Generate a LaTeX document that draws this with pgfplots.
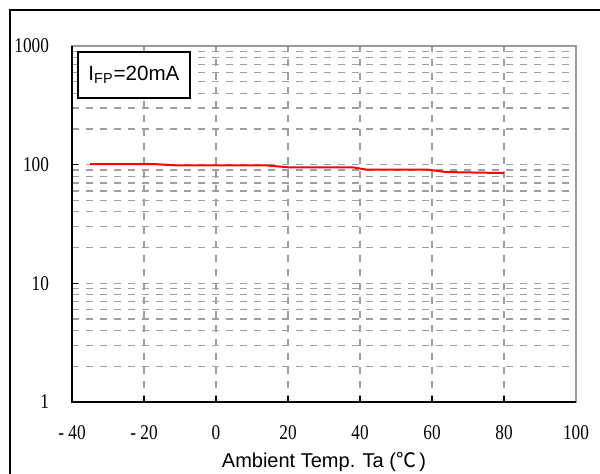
\documentclass[border=0pt]{standalone}
\usepackage{fontspec}
\setmainfont{Liberation Serif}
\newfontfamily\tickfont[FakeStretch=0.82]{Liberation Serif}
\newfontfamily\arial{Liberation Sans}
\newfontfamily\cjk{Noto Sans CJK TC}
\usepackage{pgfplots}
\pgfplotsset{compat=1.18}
\begin{document}
\begin{tikzpicture}
\useasboundingbox (-36pt,-36pt) rectangle (264pt,201pt);
\draw[line width=1pt] (-31pt,-40pt) -- (-31pt,196pt) -- (270pt,196pt);
\begin{axis}[
  scale only axis,
  width=252pt, height=178pt,
  at={(0pt,0pt)}, anchor=south west,
  ymode=log,
  xmin=-40, xmax=100, ymin=1, ymax=1000,
  xtick={-40,-20,0,20,40,60,80,100},
  xticklabels={- 40,- 20,0,20,40,60,80,100},
  ytick={1,10,100,1000},
  yticklabels={1,10,100,1000},
  /pgf/number format/assume math mode=true,
  tick label style={font=\tickfont\fontsize{10.5}{12}\selectfont},
  xtick pos=bottom, ytick pos=left,
  major tick length=3pt, minor tick length=0pt,
  tick style={black, line width=0.6pt},
  xticklabel style={yshift=-8pt},
  yticklabel style={xshift=-8pt},
  grid=both,
  major grid style={gray!75, line width=0.6pt, dash pattern=on 3.5pt off 3.5pt},
  minor grid style={gray!75, line width=0.6pt, dash pattern=on 3.5pt off 3.5pt},
  axis line style={draw=gray!80, line width=0.8pt},
  xlabel={{\arial Ambient Temp. Ta (}{\cjk ℃}{\arial\,)}},
  xlabel style={font=\fontsize{10}{12}\selectfont, yshift=0.5pt},
  clip=false,
]
\addplot[red, line width=1pt] coordinates {
(-35,101) (-17,101) (-11,98.6) (14,98.6) (20,95) (38,95) (42,90.6) (59,90.6) (64,86.6) (80,85)
};
\draw[black, line width=0.8pt] (rel axis cs:0,1) -- (rel axis cs:0,0) -- (rel axis cs:1,0);
\node[draw=black, line width=1pt, fill=white, minimum width=56pt, minimum height=23pt, inner sep=0pt,
  font=\arial\fontsize{10.3}{12}\selectfont] at (rel axis cs:0.123,0.918) {I\textsubscript{FP}=20mA};
\end{axis}
\end{tikzpicture}
\end{document}
